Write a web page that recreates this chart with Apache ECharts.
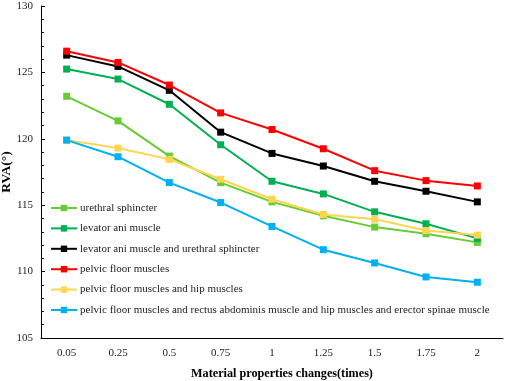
<!DOCTYPE html>
<html>
<head>
<meta charset="utf-8">
<script src="https://cdn.jsdelivr.net/npm/echarts@6/dist/echarts.min.js"></script>
<style>html,body{margin:0;padding:0;background:#fff}#c{width:505px;height:381px}</style>
</head>
<body>
<div id="c"></div>
<script>
const categories = ['0.05','0.25','0.5','0.75','1','1.25','1.5','1.75','2'];
const urethralSphincter = [123.2, 121.35, 118.7, 116.7, 115.25, 114.2, 113.35, 112.85, 112.2];
const levatorAni = [125.25, 124.5, 122.6, 119.55, 116.8, 115.85, 114.5, 113.6, 112.5];
const levatorAndUrethral = [126.3, 125.45, 123.65, 120.5, 118.9, 117.95, 116.8, 116.05, 115.25];
const pelvicFloor = [126.6, 125.75, 124.05, 121.95, 120.7, 119.25, 117.6, 116.85, 116.45];
const pelvicAndHip = [119.9, 119.3, 118.45, 116.95, 115.45, 114.3, 113.95, 113.1, 112.75];
const pelvicRectusHipErector = [119.9, 118.65, 116.7, 115.2, 113.4, 111.65, 110.65, 109.6, 109.2];
const seriesNames = [
  'urethral sphincter',
  'levator ani muscle',
  'levator ani muscle and urethral sphincter',
  'pelvic floor muscles',
  'pelvic floor muscles and hip muscles',
  'pelvic floor muscles and rectus abdominis muscle and hip muscles and erector spinae muscle'
];
const seriesData = [urethralSphincter, levatorAni, levatorAndUrethral, pelvicFloor, pelvicAndHip, pelvicRectusHipErector];
const colors = ['#66CC33', '#00B050', '#000000', '#FF0000', '#FFD54F', '#00B0F0'];
const yTicks = { min: 105, max: 130, interval: 5 };
const font = "'Liberation Serif', 'Times New Roman', serif";

const chart = echarts.init(document.getElementById('c'));
chart.setOption({
  animation: false,
  textStyle: { fontFamily: font },
  grid: { left: 41, top: 6, right: 2, bottom: 43, containLabel: false, outerBoundsMode: 'none' },
  legend: {
    orient: 'vertical', left: 45, top: 197.5,
    itemWidth: 26, itemHeight: 8, itemGap: 9.4,
    textStyle: { fontFamily: font, fontSize: 11, color: '#222', padding: [0, 0, 0, -2] },
    data: seriesNames
  },
  xAxis: {
    type: 'category', data: categories, boundaryGap: true,
    name: 'Material properties changes(times)', nameLocation: 'middle', nameGap: 30,
    nameMoveOverlap: false,
    nameTextStyle: { fontFamily: font, fontWeight: 'bold', fontSize: 12.2, color: '#000', padding: [0, 0, 0, 20] },
    axisLine: { lineStyle: { color: '#000', width: 1 } },
    axisTick: { inside: true, alignWithLabel: true, length: 3, lineStyle: { color: '#000' } },
    axisLabel: { fontFamily: font, fontSize: 11, color: '#222', margin: 10 }
  },
  yAxis: {
    type: 'value', min: yTicks.min, max: yTicks.max, interval: yTicks.interval,
    name: 'RVA(°)', nameLocation: 'middle', nameGap: 27, nameRotate: 90,
    nameMoveOverlap: false,
    nameTextStyle: { fontFamily: font, fontWeight: 'bold', fontSize: 13.5, color: '#000' },
    axisLine: { show: true, lineStyle: { color: '#000', width: 1 } },
    axisTick: { show: true, inside: true, length: 4, lineStyle: { color: '#000' } },
    minorTick: { show: true, splitNumber: 5, length: 3, lineStyle: { color: '#000' } },
    splitLine: { show: false },
    axisLabel: { fontFamily: font, fontSize: 11, color: '#222', margin: 8 }
  },
  series: seriesData.map((d, i) => ({
    name: seriesNames[i], type: 'line', data: d,
    symbol: 'rect', symbolSize: 7, showSymbol: true,
    lineStyle: { width: 2, color: colors[i] },
    itemStyle: { color: colors[i] },
    z: 2 + i
  }))
});
</script>
</body>
</html>
